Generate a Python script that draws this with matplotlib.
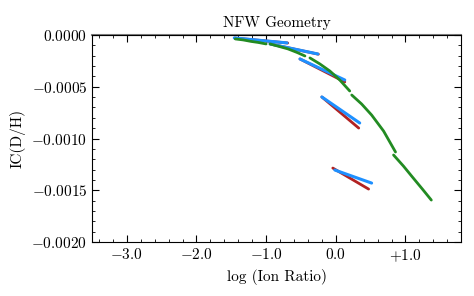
import matplotlib
matplotlib.use("Agg")
import matplotlib.pyplot as plt
from matplotlib.ticker import MultipleLocator, FixedLocator

plt.rcParams['font.family'] = 'serif'
plt.rcParams['font.serif'] = ['cmr10']
plt.rcParams['mathtext.fontset'] = 'cm'
plt.rcParams['axes.formatter.use_mathtext'] = True

# Green model curve segments (x: log ion ratio, y: IC(D/H))
green_x = [
    [-1.443, -1.329, -1.214, -1.114, -1.000],
    [-0.943, -0.814, -0.686, -0.557, -0.443],
    [-0.371, -0.229, -0.086, 0.057, 0.200],
    [0.229, 0.371, 0.514, 0.686, 0.857],
    [0.829, 0.971, 1.100, 1.243, 1.371],
]
green_y = [
    [-0.0000386, -0.0000483, -0.0000628, -0.0000725, -0.000087],
    [-0.000087, -0.000111, -0.000135, -0.000169, -0.000203],
    [-0.000222, -0.000280, -0.000348, -0.000435, -0.000541],
    [-0.000580, -0.000667, -0.000773, -0.000928, -0.001130],
    [-0.001159, -0.001266, -0.001372, -0.001488, -0.001594],
]

# Red segments
red_x = [
    [-1.450, -0.690],
    [-0.943, -0.250],
    [-0.514, 0.129],
    [-0.200, 0.329],
    [-0.043, 0.471],
]
red_y = [
    [-0.000030, -0.000078],
    [-0.000087, -0.000186],
    [-0.000232, -0.000454],
    [-0.000599, -0.000899],
    [-0.001285, -0.001488],
]

# Blue segments
blue_x = [
    [-1.457, -0.700],
    [-0.943, -0.257],
    [-0.514, 0.129],
    [-0.200, 0.343],
    [-0.014, 0.514],
]
blue_y = [
    [-0.000029, -0.000077],
    [-0.000087, -0.000184],
    [-0.000232, -0.000435],
    [-0.000599, -0.000850],
    [-0.001304, -0.001430],
]

xticks = [-3.0, -2.0, -1.0, 0.0, 1.0]
xticklabels = [r'$-3.0$', r'$-2.0$', r'$-1.0$', r'$0.0$', r'$+1.0$']
yticks = [0.0, -0.0005, -0.0010, -0.0015, -0.0020]
yticklabels = [r'$0.0000$', r'$-0.0005$', r'$-0.0010$', r'$-0.0015$', r'$-0.0020$']

fig = plt.figure(figsize=(4.74, 2.96), dpi=100)
ax = fig.add_axes([0.194, 0.182, 0.779, 0.700])

ax.axhline(0.0, color='0.5', lw=1.5, clip_on=False, zorder=1)

for xs, ys in zip(red_x, red_y):
    ax.plot(xs, ys, color='#B22222', lw=2.0, solid_capstyle='round', zorder=2)
for xs, ys in zip(blue_x, blue_y):
    ax.plot(xs, ys, color='#1E90FF', lw=2.2, solid_capstyle='round', zorder=3)
for xs, ys in zip(green_x, green_y):
    ax.plot(xs, ys, color='#228B22', lw=2.0, solid_capstyle='round',
            solid_joinstyle='round', zorder=4)

ax.set_xlim(-3.5, 1.8)
ax.set_ylim(-0.0020, 0.0)

ax.xaxis.set_major_locator(FixedLocator(xticks))
ax.set_xticklabels(xticklabels)
ax.xaxis.set_minor_locator(MultipleLocator(0.2))
ax.yaxis.set_major_locator(FixedLocator(yticks))
ax.set_yticklabels(yticklabels)
ax.yaxis.set_minor_locator(MultipleLocator(0.0001))

ax.tick_params(which='both', direction='in', top=True, right=True, labelsize=11)
ax.tick_params(which='major', length=5, width=0.8)
ax.tick_params(which='minor', length=2.5, width=0.6)

ax.set_xlabel('log (Ion Ratio)', fontsize=11)
ax.set_ylabel('IC(D/H)', fontsize=11)
ax.set_title('NFW Geometry', fontsize=11)

fig.savefig('out.png', dpi=100)
